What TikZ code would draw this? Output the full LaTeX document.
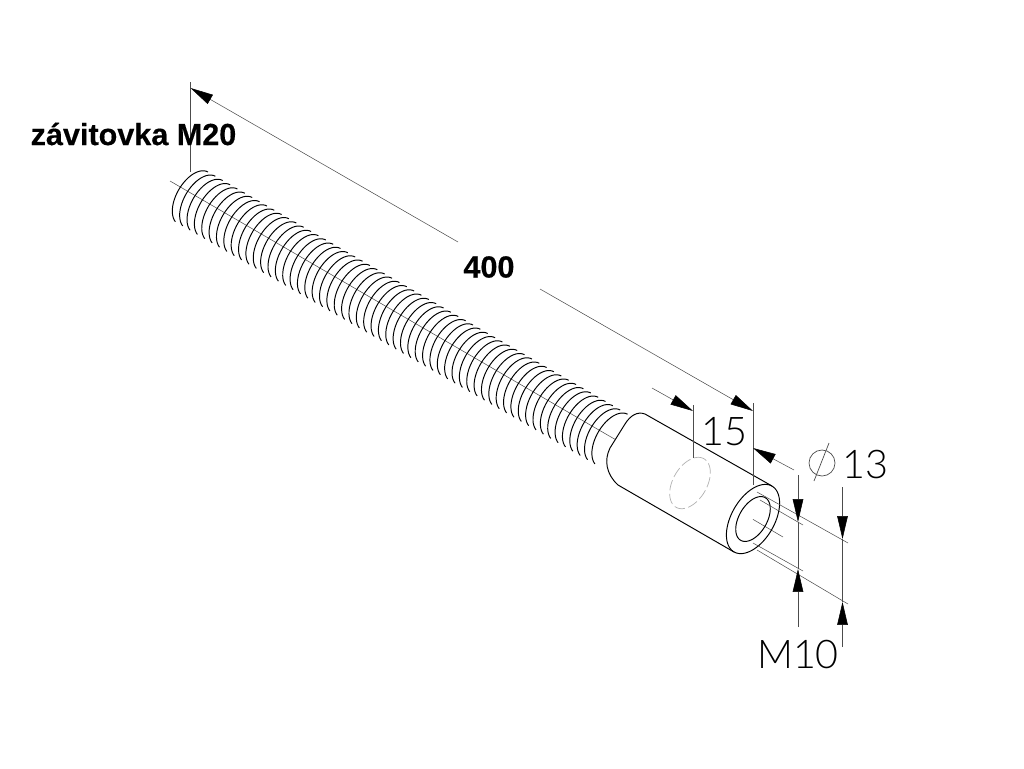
\documentclass[tikz,border=0pt]{standalone}
\usepackage{fontspec}
\usepackage{xcolor}
\usepackage{tikz}
\usetikzlibrary{arrows.meta}
\setmainfont{Liberation Sans}
\newfontfamily\thinfont[UprightFont=* Light]{Lato}
\newfontfamily\heavyfont[FakeBold=0.35]{Liberation Sans Bold}
\definecolor{dimgray}{gray}{0.3}
% one ring across the axis: centre x, centre y, long radius, short radius
\newcommand{\ringplot}[4]{plot ({#1+#3*0.5*cos(\x)-#4*0.866*sin(\x)},{#2-#3*0.866*cos(\x)-#4*0.5*sin(\x)})}

\begin{document}
\begin{tikzpicture}[x = 0.02cm, y = -0.02cm,
    dimline/.style = {color = dimgray, line width = 0.3pt},
    dimarrow/.style = {dimline, -{Triangle[length = 13pt, width = 6pt, color = black]}},
    part/.style = {line width = 0.55pt, line join = round},
    boldlabel/.style = {font = \heavyfont\fontsize{17.4}{20}\selectfont, inner sep = 0pt},
    thinlabel/.style = {font = \thinfont\fontsize{22.5}{28}\selectfont, inner sep = 0pt}]

    \useasboundingbox (0,0) rectangle (1024,768);

    % Centre line
    \draw[dimline] (170,181) -- (673,473);
    \draw[dimline] (683,479) -- (693,485);
    \draw[dimline] (703,490) -- (783,537);

    % Thread
    \foreach \s in {0,8.5,...,485}
      \draw[part, smooth, samples = 24, domain = 0:168]
        \ringplot{193+0.866*\s}{198+0.5*\s}{30}{16.5};

    % Sleeve
    \draw[part, fill = white] (772,486) -- (645,414) .. controls (637,411) and (630,416) .. (625,424)
      -- (610,448) .. controls (604,460) and (606,474) .. (618,485) -- (734,552);
    \draw[part, smooth, samples = 72, domain = 0:360] \ringplot{753}{519}{38}{21.5};
    \draw[part, smooth, samples = 72, domain = 0:360] \ringplot{753}{519}{24.6}{14};
    \draw[color = gray!60, line width = 0.4pt, dash pattern = on 6pt off 2pt, smooth, samples = 72, domain = 0:360]
      \ringplot{690}{483}{28}{17};

    % Overall length
    \coordinate (lenstart) at (190.5,88);
    \coordinate (lenend) at (753,411);
    \draw[dimline] (190.5,82) -- (190.5,172);
    \draw[dimline] (753,403) -- (753,485);
    \draw[dimarrow] (458,242) -- (lenstart);
    \draw[dimarrow] (540,289) -- (lenend);
    \node[boldlabel] (len) at (489,267) {400};

    % Hole depth
    \coordinate (depthleft) at (693,411);
    \coordinate (depthright) at (753,448);
    \draw[dimline] (693,405) -- (693,458);
    \draw[dimarrow] (652,388) -- (depthleft);
    \draw[dimarrow] (794,470) -- (depthright);
    \node[thinlabel] (depth) at (724,432) {15};

    % Witness lines from the end face
    \draw[dimline] (760,500) -- (803,525);
    \draw[dimline] (753,543) -- (803,571);
    \draw[dimline] (757,492) -- (848,543);
    \draw[dimline] (757,550) -- (848,604);

    % Inner thread
    \coordinate (innertop) at (798,522);
    \coordinate (innerbot) at (798,569);
    \draw[dimline] (innertop) -- (innerbot);
    \draw[dimarrow] (798,475) -- (innertop);
    \draw[dimarrow] (798,627) -- (innerbot);
    \node[thinlabel] (inner) at (798,654) {M10};

    % Outer diameter
    \coordinate (outertop) at (842.5,539);
    \coordinate (outerbot) at (842.5,602);
    \draw[dimline] (outertop) -- (outerbot);
    \draw[dimarrow] (842.5,487) -- (outertop);
    \draw[dimarrow] (842.5,647) -- (outerbot);
    \draw[dimline, line width = 0.4pt] (822,463) circle (13);
    \draw[dimline, line width = 0.4pt] (829,443) -- (814,481);
    \node[thinlabel] (outer) at (865,465) {13};

    \node[boldlabel] (name) at (133.5,134) {závitovka M20};

  \end{tikzpicture}
\end{document}
